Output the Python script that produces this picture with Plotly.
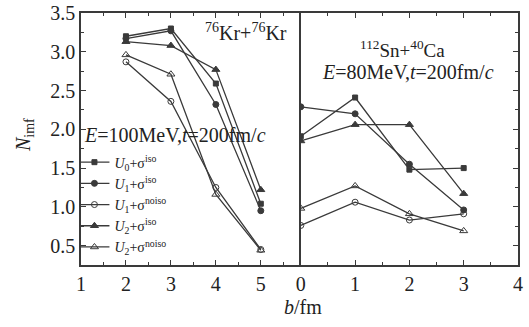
import plotly.graph_objects as go

# ---- data ----
b_left = [2, 3, 4, 5]
b_right = [0, 1, 2, 3]

U0_iso_L = [3.20, 3.30, 2.59, 1.04]
U1_iso_L = [3.17, 3.27, 2.32, 0.95]
U1_noiso_L = [2.87, 2.36, 1.25, 0.45]
U2_iso_L = [3.13, 3.08, 2.77, 1.22]
U2_noiso_L = [2.96, 2.71, 1.16, 0.44]

U0_iso_R = [1.91, 2.41, 1.48, 1.50]
U1_iso_R = [2.29, 2.20, 1.55, 0.96]
U1_noiso_R = [0.76, 1.06, 0.83, 0.91]
U2_iso_R = [1.85, 2.06, 2.06, 1.17]
U2_noiso_R = [0.98, 1.27, 0.91, 0.69]

series_names = [
    "<i>U</i><sub>0</sub>+σ<sup>iso</sup>",
    "<i>U</i><sub>1</sub>+σ<sup>iso</sup>",
    "<i>U</i><sub>1</sub>+σ<sup>noiso</sup>",
    "<i>U</i><sub>2</sub>+σ<sup>iso</sup>",
    "<i>U</i><sub>2</sub>+σ<sup>noiso</sup>",
]
left_vals = [U0_iso_L, U1_iso_L, U1_noiso_L, U2_iso_L, U2_noiso_L]
right_vals = [U0_iso_R, U1_iso_R, U1_noiso_R, U2_iso_R, U2_noiso_R]
symbols = ["square", "circle", "circle-open", "triangle-up", "triangle-up-open"]
sizes = [5, 6, 6, 7, 7]

y_ticks = [0.5, 1.0, 1.5, 2.0, 2.5, 3.0, 3.5]
x_left_ticks = [1, 2, 3, 4, 5]
x_right_ticks = [0, 1, 2, 3, 4]

LC = "#3a3a3a"
FONT = "Liberation Serif"

fig = go.Figure()
for name, lv, rv, sym, sz in zip(series_names, left_vals, right_vals, symbols, sizes):
    mk = dict(symbol=sym, size=sz, color=LC, line=dict(color=LC, width=1))
    fig.add_trace(go.Scatter(x=b_left, y=lv, mode="lines+markers", name=name,
                             line=dict(color=LC, width=1.3), marker=mk,
                             xaxis="x", yaxis="y", showlegend=True))
    fig.add_trace(go.Scatter(x=b_right, y=rv, mode="lines+markers", name=name,
                             line=dict(color=LC, width=1.3), marker=mk,
                             xaxis="x2", yaxis="y2", showlegend=False))

ax_common = dict(showline=True, linecolor=LC, linewidth=1.5, ticks="inside",
                 ticklen=5, tickcolor=LC, tickwidth=1, showgrid=False, zeroline=False,
                 automargin=False,
                 tickfont=dict(family=FONT, size=20, color="#222"))
split = 0.503
fig.update_layout(
    width=529, height=327,
    margin=dict(l=81, r=11, t=13, b=62, autoexpand=False),
    paper_bgcolor="white", plot_bgcolor="white",
    font=dict(family=FONT, color="#222"),
    xaxis=dict(domain=[0, split], range=[1, 5.89], tickvals=x_left_ticks,
               mirror="ticks", anchor="y",
               minor=dict(dtick=0.5, tick0=0, ticks="inside", ticklen=3, tickcolor=LC),
               **ax_common),
    xaxis2=dict(domain=[split, 1], range=[0, 4], tickvals=x_right_ticks,
                mirror="ticks", anchor="y2",
                minor=dict(dtick=0.5, tick0=0, ticks="inside", ticklen=3, tickcolor=LC),
                **ax_common),
    yaxis=dict(range=[0.25, 3.5], tickvals=y_ticks, ticktext=[f"{v:.1f}" for v in y_ticks],
               anchor="x", mirror=False,
               minor=dict(dtick=0.25, tick0=0, ticks="inside", ticklen=3, tickcolor=LC),
               **ax_common),
    yaxis2=dict(range=[0.25, 3.5], tickvals=y_ticks, showticklabels=False,
                anchor="x2", side="right", mirror=True,
                minor=dict(dtick=0.25, tick0=0, ticks="inside", ticklen=3, tickcolor=LC),
                **ax_common),
    legend=dict(x=-0.015, y=0.47, xanchor="left", yanchor="top",
                bgcolor="rgba(0,0,0,0)", font=dict(family=FONT, size=14, color="#222"),
                tracegroupgap=0, itemwidth=30),
    annotations=[
        dict(text="<sup>76</sup>Kr+<sup>76</sup>Kr", x=0.378, y=0.924, xref="paper", yref="paper",
             xanchor="center", yanchor="middle", showarrow=False, font=dict(size=20)),
        dict(text="<sup>112</sup>Sn+<sup>40</sup>Ca", x=0.735, y=0.856, xref="paper", yref="paper",
             xanchor="center", yanchor="middle", showarrow=False, font=dict(size=19)),
        dict(text="<i>E</i>=80MeV,<i>t</i>=200fm/<i>c</i>", x=0.748, y=0.766, xref="paper", yref="paper",
             xanchor="center", yanchor="middle", showarrow=False, font=dict(size=20)),
        dict(text="<i>E</i>=100MeV,<i>t</i>=200fm/<i>c</i>", x=0.002, y=0.516, xref="paper", yref="paper",
             xanchor="left", yanchor="middle", showarrow=False, font=dict(size=20)),
        dict(text="<i>b</i>/fm", x=0.508, y=-0.165, xref="paper", yref="paper",
             xanchor="center", yanchor="middle", showarrow=False, font=dict(size=20)),
        dict(text="<i>N</i><sub>imf</sub>", x=-0.128, y=0.516, xref="paper", yref="paper",
             xanchor="center", yanchor="middle",
             textangle=-90, showarrow=False, font=dict(size=20)),
    ],
)

fig.write_html("out.html", config={"displayModeBar": False},
               post_script="document.body.style.margin='0px';")
